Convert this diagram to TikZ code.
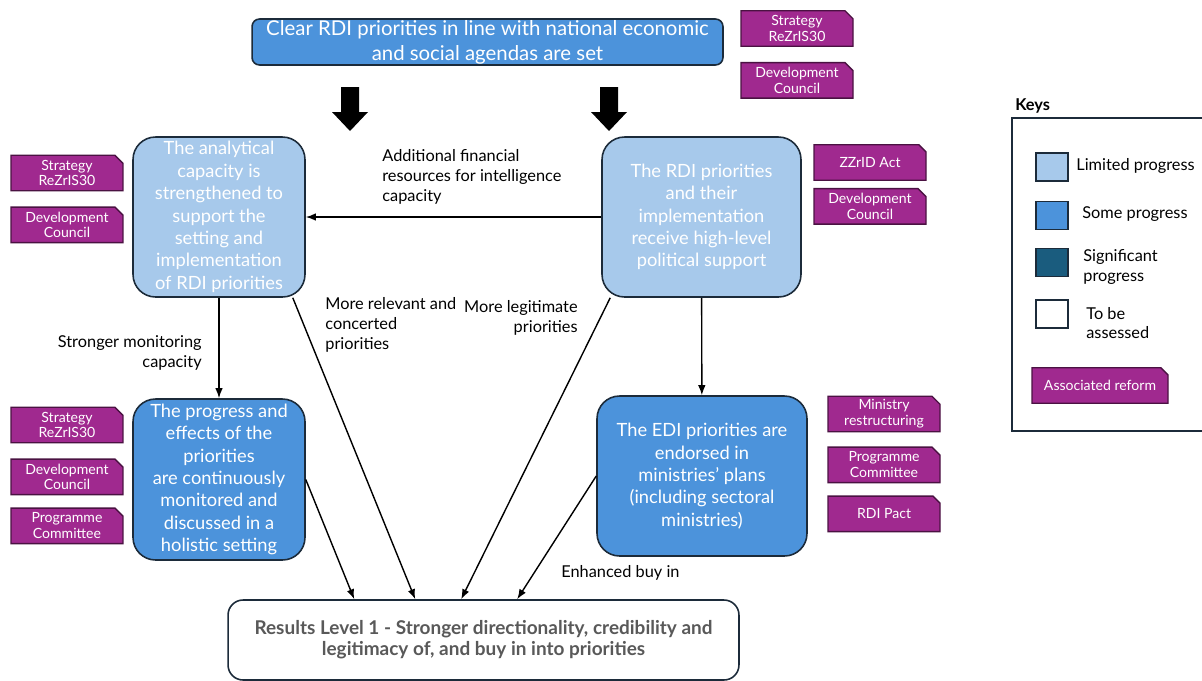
\documentclass[tikz,border=0pt]{standalone}
\usepackage{fontspec}
\setmainfont{Lato}
\usetikzlibrary{arrows.meta,positioning,shapes.misc}
\definecolor{rdiline}{HTML}{1C2B3A}
\definecolor{rdilight}{HTML}{A7C9EB}
\definecolor{rdisome}{HTML}{4C93DB}
\definecolor{rdisig}{HTML}{1A5C7E}
\definecolor{reformfill}{HTML}{A0298F}
\definecolor{reformline}{HTML}{4A1242}
\definecolor{resgray}{HTML}{595959}

\begin{document}
\begin{tikzpicture}[x=0.02cm, y=-0.02cm,
  goal/.style={draw=rdiline, line width=0.9pt, rounded corners=4.5mm, align=center, text=white, inner sep=0pt, font=\fontsize{10.4}{12.75}\selectfont},
  limited/.style={goal, fill=rdilight},
  some/.style={goal, fill=rdisome},
  reform/.style={chamfered rectangle, chamfered rectangle corners=north east, chamfered rectangle xsep=0.12cm, chamfered rectangle ysep=0.04cm, draw=reformline, line width=0.8pt, fill=reformfill, text=white, align=center, inner sep=0pt, minimum width=2.24cm, minimum height=0.71cm, font=\fontsize{8}{9}\selectfont},
  keybox/.style={draw=rdiline, line width=0.9pt, minimum width=0.64cm, minimum height=0.56cm, inner sep=0pt},
  lbl/.style={inner sep=0pt, font=\fontsize{9.3}{11.3}\selectfont},
  arrow/.style={-{Latex[length=2mm,width=1.5mm]}, line width=0.8pt}
]
\useasboundingbox (0,0) rectangle (1202,680);
% goals
\node[some, minimum width=9.42cm, minimum height=0.92cm, rounded corners=1.5mm, font=\fontsize{11.6}{14.2}\selectfont] (top) at (487.5,42) {Clear RDI priorities in line with national economic\\and social agendas are set};
\node[limited, minimum width=3.44cm, minimum height=3.2cm] (analytic) at (219,217) {The analytical\\capacity is\\strengthened to\\support the\\setting and\\implementation\\of RDI priorities};
\node[limited, minimum width=3.98cm, minimum height=3.2cm] (political) at (701.5,217) {The RDI priorities\\and their\\implementation\\receive high-level\\political support};
\node[some, minimum width=3.44cm, minimum height=3.22cm] (monitor) at (219,479.5) {The progress and\\effects of the\\priorities\\are continuously\\monitored and\\discussed in a\\holistic setting};
\node[some, minimum width=4.2cm, minimum height=3.2cm] (endorse) at (702,476) {The EDI priorities are\\endorsed in\\ministries’ plans\\(including sectoral\\ministries)};
\node[goal, fill=white, text=resgray, minimum width=10.22cm, minimum height=1.6cm, rounded corners=3mm, font=\bfseries\fontsize{10.8}{12}\selectfont] (result) at (483.5,640) {Results Level 1 - Stronger directionality, credibility and\\legitimacy of, and buy in into priorities};

% block arrows
\foreach \x in {350,609}
  \fill (\x-9,87) -- (\x+9,87) -- (\x+9,112) -- (\x+18,112) -- (\x,131) -- (\x-18,112) -- (\x-9,112) -- cycle;

% associated reforms
\node[reform] (topstrat) at (797,28.5) {Strategy\\ReZrIS30};
\node[reform, below=0.3cm of topstrat] (topcouncil) {Development\\Council};
\node[reform] (anstrat) at (67,173) {Strategy\\ReZrIS30};
\node[reform, below=0.3cm of anstrat] (ancouncil) {Development\\Council};
\node[reform] (polact) at (870,162.5) {ZZrID Act};
\node[reform, below=0.14cm of polact] (polcouncil) {Development\\Council};
\node[reform] (monstrat) at (67,425) {Strategy\\ReZrIS30};
\node[reform, below=0.3cm of monstrat] (moncouncil) {Development\\Council};
\node[reform, below=0.24cm of moncouncil] (moncommittee) {Programme\\Committee};
\node[reform] (endministry) at (884,414) {Ministry\\restructuring};
\node[reform, below=0.28cm of endministry] (endcommittee) {Programme\\Committee};
\node[reform, below=0.24cm of endcommittee] (endpact) {RDI Pact};

% connectors
\draw[arrow] (political) -- (analytic);
\draw[arrow] (analytic) -- (monitor);
\draw[arrow] (political) -- (endorse);
\draw[arrow] (monitor.east) -- ([xshift=2.54cm]result.north west);
\draw[arrow] ([xshift=-0.26cm]analytic.south east) -- ([xshift=3.76cm]result.north west);
\draw[arrow] ([xshift=0.18cm]political.south west) -- ([xshift=4.68cm]result.north west);
\draw[arrow] (endorse.west) -- ([xshift=5.8cm]result.north west);

% labels
\node[lbl, anchor=west, align=left] (lblfin) at (382,177) {Additional financial\\resources for intelligence\\capacity};
\node[lbl, anchor=east, align=right] (lblmon) at (202,353) {Stronger monitoring\\capacity};
\node[lbl, anchor=west, align=left] (lblrel) at (325,325) {More relevant and\\concerted\\priorities};
\node[lbl, anchor=east, align=right] (lblleg) at (578,318) {More legitimate\\priorities};
\node[lbl, anchor=west] (lblbuy) at (561,573) {Enhanced buy in};

% keys
\node[lbl, anchor=west, font=\bfseries\fontsize{9.3}{11}\selectfont] (keys) at (1015,106) {Keys};
\draw[rdiline, line width=0.9pt] (1012,118) rectangle (1230,431);
\node[keybox, fill=rdilight] (keylim) at (1052,167) {};
\node[keybox, fill=rdisome] (keysome) at (1052,215.5) {};
\node[keybox, fill=rdisig] (keysig) at (1052,262.5) {};
\node[keybox, fill=white] (keytba) at (1052,314) {};
\node[lbl, anchor=west] at (1076,166) {Limited progress};
\node[lbl, anchor=west] at (1082,214) {Some progress};
\node[lbl, anchor=west, align=left] at (1083,267) {Significant\\progress};
\node[lbl, anchor=west, align=left] at (1086,323) {To be\\assessed};
\node[reform, minimum width=2.72cm] (keyreform) at (1100,385.5) {Associated reform};
\end{tikzpicture}
\end{document}
